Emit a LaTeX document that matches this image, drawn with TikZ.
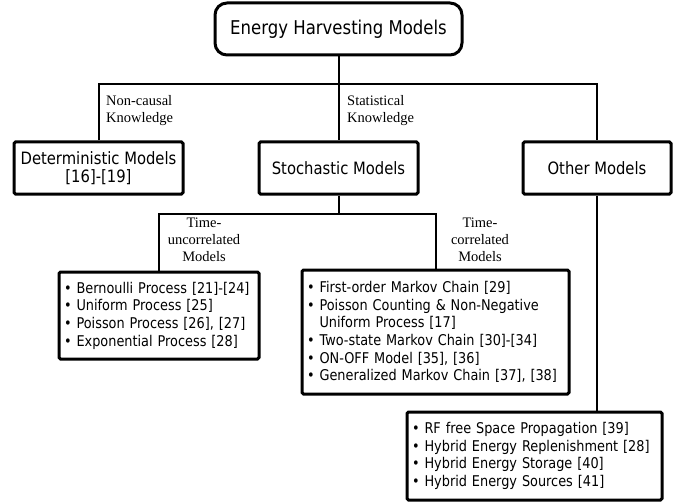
\documentclass[tikz,border=0pt]{standalone}
\usepackage{fontspec}
\setmainfont{Liberation Serif}
\newfontfamily\tah[FakeStretch=0.87]{DejaVu Sans}
\usetikzlibrary{positioning}
\tikzset{
	box/.style={draw, line width=3pt, rounded corners=1.5pt, inner sep=0pt, align=center, font=\tah\fontsize{17}{18}\selectfont},
	listbox/.style={draw, line width=3pt, rounded corners=1.5pt, inner xsep=5pt, inner ysep=0pt, align=left, font=\tah\fontsize{14.8}{17.7}\selectfont},
	wire/.style={line width=2pt},
	lbl/.style={inner sep=0pt, font=\fontsize{14.5}{17}\selectfont}
}

\begin{document}
\begin{tikzpicture}[x=1pt,y=-1pt]
		\useasboundingbox (0,0) rectangle (681,503);
		\node[box, rounded corners=12pt, minimum width=247pt, minimum height=52pt, font=\tah\fontsize{19}{20}\selectfont] (root) at (338.5,29) {Energy Harvesting Models};
		\node[box, minimum width=169pt, minimum height=52pt] (det) at (98.5,168) {Deterministic Models\\{[16]-[19]}};
		\node[box, minimum width=159pt, minimum height=52pt] (sto) at (338.5,168) {Stochastic Models};
		\node[box, minimum width=148pt, minimum height=52pt] (oth) at (597,168) {Other Models};
		\node[listbox, text width=190pt, minimum height=87pt] (tucl) at (159,315.5) {• Bernoulli Process [21]-[24]\\• Uniform Process [25]\\• Poisson Process [26], [27]\\• Exponential Process [28]};
		\node[listbox, text width=257pt, minimum height=124pt] (tcl) at (435.5,332) {• First-order Markov Chain [29]\\• Poisson Counting \& Non-Negative\\\hphantom{•\ }Uniform Process [17]\\• Two-state Markov Chain [30]-[34]\\• ON-OFF Model [35], [36]\\• Generalized Markov Chain [37], [38]};
		\node[listbox, text width=245pt, minimum height=88pt] (oml) at (534.5,456) {• RF free Space Propagation [39]\\• Hybrid Energy Replenishment [28]\\• Hybrid Energy Storage [40]\\• Hybrid Energy Sources [41]};
		\draw[wire] (root.south) -- ++(0,28) coordinate (bus);
		\draw[wire] (det.north) |- (bus) -| (oth.north);
		\draw[wire] (bus) -- (sto.north);
		\draw[wire] (sto.south) -- ++(0,18) coordinate (sbus);
		\draw[wire] (tucl.north) |- (sbus) -| (tcl.north);
		\draw[wire] (oth.south) -- (oth.south |- oml.north);
		\node[lbl, anchor=west, align=left] (ncl) at (106,110.5) {Non-causal\\Knowledge};
		\node[lbl, anchor=west, align=left] (skl) at (347,110.5) {Statistical\\Knowledge};
		\node[lbl, align=center] (tucl-lbl) at (204,240) {Time-\\uncorrelated\\Models};
		\node[lbl, align=center] (tcl-lbl) at (480,239.5) {Time-\\correlated\\Models};
	\end{tikzpicture}
\end{document}
